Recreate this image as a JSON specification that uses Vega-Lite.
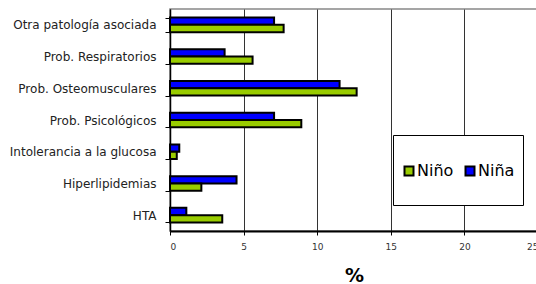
{
  "$schema": "https://vega.github.io/schema/vega-lite/v6.json",
  "width": 368,
  "height": 222,
  "padding": {"left": 9, "top": 3, "right": 0, "bottom": 0},
  "background": "white",
  "config": {
    "view": {"stroke": "#888888", "strokeWidth": 1.5},
    "font": "DejaVu Sans"
  },
  "data": {
    "values": [
      {"cat": "Otra patología asociada", "sexo": "Niña", "v": 7.07},
      {"cat": "Otra patología asociada", "sexo": "Niño", "v": 7.72},
      {"cat": "Prob. Respiratorios", "sexo": "Niña", "v": 3.71},
      {"cat": "Prob. Respiratorios", "sexo": "Niño", "v": 5.61},
      {"cat": "Prob. Osteomusculares", "sexo": "Niña", "v": 11.52},
      {"cat": "Prob. Osteomusculares", "sexo": "Niño", "v": 12.68},
      {"cat": "Prob. Psicológicos", "sexo": "Niña", "v": 7.07},
      {"cat": "Prob. Psicológicos", "sexo": "Niño", "v": 8.92},
      {"cat": "Intolerancia a la glucosa", "sexo": "Niña", "v": 0.63},
      {"cat": "Intolerancia a la glucosa", "sexo": "Niño", "v": 0.46},
      {"cat": "Hiperlipidemias", "sexo": "Niña", "v": 4.52},
      {"cat": "Hiperlipidemias", "sexo": "Niño", "v": 2.13},
      {"cat": "HTA", "sexo": "Niña", "v": 1.11},
      {"cat": "HTA", "sexo": "Niño", "v": 3.55}
    ]
  },
  "mark": {"type": "bar", "stroke": "black", "strokeWidth": 2},
  "encoding": {
    "y": {
      "field": "cat",
      "type": "nominal",
      "sort": null,
      "scale": {"paddingInner": 0.54, "paddingOuter": 0.27},
      "axis": {
        "title": null,
        "labelFontSize": 12,
        "labelColor": "#222",
        "labelPadding": 9,
        "tickBand": "extent",
        "tickSize": 5,
        "tickColor": "black",
        "domainColor": "black",
        "domainWidth": 1.5,
        "labelLimit": 300
      }
    },
    "yOffset": {
      "field": "sexo",
      "type": "nominal",
      "scale": {"domain": ["Niña", "Niño"], "paddingInner": 0, "paddingOuter": 0}
    },
    "x": {
      "field": "v",
      "type": "quantitative",
      "scale": {"domain": [0, 25], "nice": false},
      "axis": {
        "title": "%",
        "titleFontSize": 19,
        "titleFontWeight": "bold",
        "titleColor": "black",
        "titlePadding": 15,
        "values": [0, 5, 10, 15, 20, 25],
        "labelFontSize": 9,
        "labelColor": "#333",
        "labelPadding": 7,
        "grid": true,
        "gridColor": "#333",
        "gridWidth": 1,
        "domainColor": "black",
        "domainWidth": 2,
        "ticks": true,
        "tickSize": 4,
        "tickColor": "black"
      }
    },
    "color": {
      "field": "sexo",
      "type": "nominal",
      "scale": {"domain": ["Niño", "Niña"], "range": ["#99CC00", "#0000FF"]},
      "legend": {
        "title": " ",
        "titleFontSize": 13,
        "titlePadding": 7,
        "orient": "none",
        "legendX": 223,
        "legendY": 126,
        "direction": "horizontal",
        "columns": 2,
        "fillColor": "white",
        "strokeColor": "black",
        "padding": 8,
        "labelFontSize": 16,
        "labelColor": "black",
        "symbolType": "square",
        "symbolSize": 81,
        "symbolStrokeColor": "black",
        "symbolStrokeWidth": 2,
        "symbolOpacity": 1,
        "labelExpr": "[datum.label, ' ']",
        "columnPadding": 7,
        "labelOffset": 0
      }
    }
  }
}
